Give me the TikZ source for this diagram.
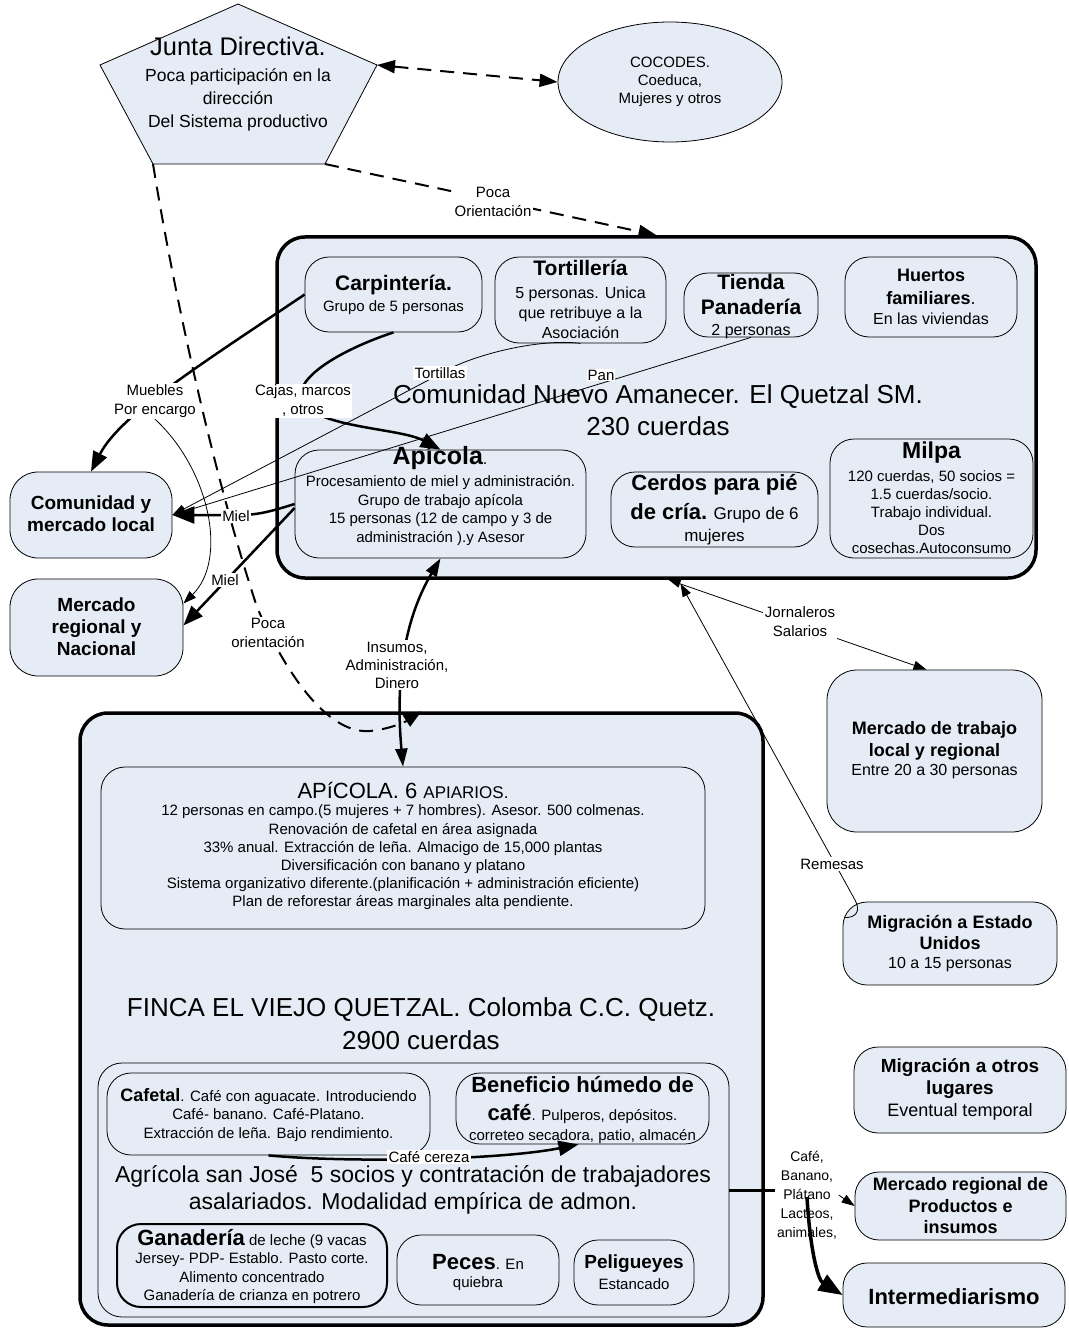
\documentclass[tikz,border=0pt]{standalone}
\usepackage{fontspec}
\setmainfont{Liberation Sans}
\usetikzlibrary{arrows.meta,shapes.geometric,calc}
\definecolor{boxfill}{RGB}{230,236,246}
\newcommand\setfs[2]{\fontsize{#1}{#2}\selectfont}
\pgfdeclarelayer{front}
\pgfdeclarelayer{top}
\pgfsetlayers{main,front,top}

\begin{document}
\begin{tikzpicture}[x=1pt,y=-1pt,
  box/.style={draw, fill=boxfill, line width=0.8pt, rounded corners=24pt, inner sep=0pt},
  bigbox/.style={draw, fill=boxfill, line width=3.5pt, rounded corners=28pt, inner sep=0pt},
  txt/.style={inner sep=0pt, align=center},
  lbl/.style={fill=white, inner sep=1.5pt, align=center, font=\setfs{15}{19}},
  dashln/.style={line width=2pt, dash pattern=on 14pt off 9pt},
  thickarr/.style={line width=2.5pt, -{Triangle[length=20pt,width=15pt]}},
  thinarr/.style={line width=0.8pt, -{Triangle[length=13pt,width=9pt]}},
]
\useasboundingbox (0,0) rectangle (1068,1332);
\fill[white] (0,0) rectangle (1068,1332);

% ---------- board of directors and community councils ----------
\coordinate (jt) at (238,4);
\coordinate (jl) at (100,65);
\coordinate (jr) at (377,65);
\coordinate (jbr) at (325,164);
\coordinate (jbl) at (153,164);
\draw[fill=boxfill, line width=0.8pt] (jt) -- (jr) -- (jbr) -- (jbl) -- (jl) -- cycle;
\node[txt, font=\setfs{25.5}{28}] (jun-t) at (238,46) {Junta Directiva.};
\node[txt, font=\setfs{17.5}{23}] (jun-b) at (238,100) {Poca participación en la\\dirección\\Del Sistema productivo};

\node[ellipse, draw, fill=boxfill, line width=0.8pt, minimum width=224pt, minimum height=120pt,
      align=center, font=\setfs{15}{18}] (coc) at (670,82) {COCODES.\\Coeduca,\\Mujeres y otros};

% ---------- Comunidad Nuevo Amanecer ----------
\node[bigbox, minimum width=759pt, minimum height=341pt] (com) at (656.5,407.5) {};
\node[txt, font=\setfs{26}{32}] (com-t) at (658,410) {Comunidad Nuevo Amanecer. El Quetzal SM.\\230 cuerdas};

\node[box, minimum width=177pt, minimum height=75pt] (carp) at (393.5,294.5) {};
\node[txt, font=\bfseries\setfs{21}{24}] (carp-t) at (393.5,285) {Carpintería.};
\node[txt, font=\setfs{15}{18}] (carp-b) at (393.5,308) {Grupo de 5 personas};

\node[box, minimum width=171pt, minimum height=86pt] (tort) at (580.5,300) {};
\node[txt, font=\bfseries\setfs{21}{24}] (tort-t) at (580.5,268) {Tortillería};
\node[txt, font=\setfs{16}{20}] (tort-b) at (580.5,313) {5 personas. Unica\\que retribuye a la\\Asociación};

\node[box, minimum width=134pt, minimum height=64pt] (tien) at (751,305) {};
\node[txt, font=\bfseries\setfs{21}{25}] (tien-t) at (751,294.5) {Tienda\\Panadería};
\node[txt, font=\setfs{16}{19}] (tien-b) at (751,332) {2 personas};

\node[box, minimum width=172pt, minimum height=80pt] (huer) at (931,297) {};
\node[txt, font=\bfseries\setfs{18}{23}] (huer-t) at (931,286.5) {Huertos\\familiares{\mdseries.}};
\node[txt, font=\setfs{16}{19}] (huer-b) at (931,319) {En las viviendas};

\node[box, minimum width=291pt, minimum height=108pt] (apic) at (440.5,504) {};
\node[txt] (apic-t) at (440,458) {{\bfseries\setfs{25}{28}Apícola}{\setfs{16}{18}.}};
\node[txt, font=\setfs{15}{18.5}] (apic-b) at (440.5,510.5) {Procesamiento de miel y administración.\\Grupo de trabajo apícola\\15 personas (12 de campo y 3 de\\administración ).y Asesor};

\node[box, minimum width=207pt, minimum height=75pt] (cerd) at (714.5,509.5) {};
\node[txt, font=\bfseries\setfs{22}{26}] (cerd-1) at (714.5,485) {Cerdos para pié};
\node[txt] (cerd-2) at (714.5,513) {{\bfseries\setfs{22}{26}de cría.}{\setfs{17}{20} Grupo de 6}};
\node[txt, font=\setfs{17}{20}] (cerd-3) at (714.5,537) {mujeres};

\node[box, minimum width=203pt, minimum height=119pt] (milp) at (931.5,498.5) {};
\node[txt, font=\bfseries\setfs{23}{26}] (milp-t) at (931.5,453) {Milpa};
\node[txt, font=\setfs{15}{18}] (milp-b) at (931.5,512) {120 cuerdas, 50 socios =\\1.5 cuerdas/socio.\\Trabajo individual.\\Dos\\cosechas.Autoconsumo};

% ---------- markets on the left ----------
\node[box, minimum width=162pt, minimum height=86pt, rounded corners=28pt] (cml) at (91,515) {};
\node[txt, font=\bfseries\setfs{19}{22}] (cml-t) at (91,514) {Comunidad y\\mercado local};
\node[box, minimum width=173pt, minimum height=97pt, rounded corners=28pt] (mrn) at (96.5,627.5) {};
\node[txt, font=\bfseries\setfs{19}{22}] (mrn-t) at (96.5,627) {Mercado\\regional y\\Nacional};

% ---------- Finca El Viejo Quetzal ----------
\node[bigbox, minimum width=683pt, minimum height=612pt] (finca) at (421.5,1019) {};
\node[box, minimum width=604pt, minimum height=162pt] (fapi) at (403,848) {};
\node[txt] (fapi-t) at (403,790) {{\setfs{22}{24}APíCOLA. 6 }{\setfs{17}{20}APIARIOS.}};
\node[txt, font=\setfs{15}{18.2}] (fapi-b) at (403,857.5) {12 personas en campo.(5 mujeres + 7 hombres). Asesor. 500 colmenas.\\Renovación de cafetal en área asignada\\33\% anual. Extracción de leña. Almacigo de 15,000 plantas\\Diversificación con banano y platano\\Sistema organizativo diferente.(planificación + administración eficiente)\\Plan de reforestar áreas marginales alta pendiente.};
\node[txt, font=\setfs{26}{33}] (finca-t) at (421,1023.5) {FINCA EL VIEJO QUETZAL. Colomba C.C. Quetz.\\2900 cuerdas};

\node[box, minimum width=631pt, minimum height=254pt] (agr) at (413.5,1190) {};
\node[txt, font=\setfs{23}{27}] (agr-t) at (413,1189.5) {Agrícola san José\ \ 5 socios y contratación de trabajadores\\asalariados. Modalidad empírica de admon.};

\node[box, minimum width=323pt, minimum height=82pt] (cafe) at (268.5,1114) {};
\node[txt] (cafe-1) at (268.5,1097) {{\bfseries\setfs{18}{22}Cafetal}{\setfs{15}{18}. Café con aguacate. Introduciendo}};
\node[txt, font=\setfs{15}{18.5}] (cafe-b) at (268.5,1125) {Café- banano. Café-Platano.\\Extracción de leña. Bajo rendimiento.};

\node[box, minimum width=253pt, minimum height=71pt] (bene) at (582.5,1108.5) {};
\node[txt, font=\bfseries\setfs{22}{26}] (bene-1) at (582.5,1085) {Beneficio húmedo de};
\node[txt] (bene-2) at (582.5,1114) {{\bfseries\setfs{22}{26}café}{\setfs{15}{18}. Pulperos, depósitos.}};
\node[txt, font=\setfs{15}{18}] (bene-3) at (582.5,1137) {correteo secadora, patio, almacén};

\node[box, line width=2pt, minimum width=270pt, minimum height=83pt] (gana) at (252,1265.5) {};
\node[txt] (gana-1) at (252,1239) {{\bfseries\setfs{22}{26}Ganadería}{\setfs{15}{18} de leche (9 vacas}};
\node[txt, font=\setfs{15}{18.5}] (gana-b) at (252,1278.5) {Jersey- PDP- Establo. Pasto corte.\\Alimento concentrado\\Ganadería de crianza en potrero};

\node[box, minimum width=162pt, minimum height=70pt] (pece) at (478,1270) {};
\node[txt] (pece-1) at (478,1262) {{\bfseries\setfs{22}{26}Peces}{\setfs{15}{18}. En}};
\node[txt, font=\setfs{15}{18}] (pece-2) at (478,1284) {quiebra};

\node[box, minimum width=120pt, minimum height=65pt] (peli) at (634,1272.5) {};
\node[txt, font=\bfseries\setfs{19}{22}] (peli-1) at (634,1264) {Peligueyes};
\node[txt, font=\setfs{15}{18}] (peli-2) at (634,1284) {Estancado};

% ---------- destinations on the right ----------
\node[box, minimum width=215pt, minimum height=162pt, rounded corners=30pt] (mtr) at (934.5,751) {};
\node[txt, font=\bfseries\setfs{18}{22}] (mtr-t) at (934.5,741) {Mercado de trabajo\\local y regional};
\node[txt, font=\setfs{16}{19}] (mtr-b) at (934.5,772) {Entre 20 a 30 personas};

\node[box, minimum width=214pt, minimum height=83pt] (meu) at (950,943.5) {};
\node[txt, font=\bfseries\setfs{18}{21}] (meu-t) at (950,932.5) {Migración a Estado\\Unidos};
\node[txt, font=\setfs{16}{19}] (meu-b) at (950,965) {10 a 15 personas};

\node[box, minimum width=212pt, minimum height=86pt] (mol) at (960,1090) {};
\node[txt, font=\bfseries\setfs{19}{22}] (mol-t) at (960,1079) {Migración a otros\\lugares};
\node[txt, font=\setfs{18}{21}] (mol-b) at (960,1112) {Eventual temporal};

\node[box, minimum width=211pt, minimum height=68pt] (mrp) at (960.5,1206) {};
\node[txt, font=\bfseries\setfs{18}{21.5}] (mrp-t) at (960.5,1206) {Mercado regional de\\Productos e\\insumos};

\node[box, minimum width=222pt, minimum height=64pt] (inte) at (954,1295) {};
\node[txt, font=\bfseries\setfs{22}{26}] (inte-t) at (954,1297) {Intermediarismo};

% ---------- connector labels (kept above the lines) ----------
\begin{pgfonlayer}{front}
\node[lbl] (lbl-po) at (493,202) {Poca\\Orientación};
\node[lbl] (lbl-mue) at (155,401) {Muebles\\Por encargo};
\node[lbl] (lbl-caj) at (303,401) {Cajas, marcos\\, otros};
\node[lbl] (lbl-tor) at (440,373) {Tortillas};
\node[lbl, inner sep=1pt] (lbl-pan) at (601,375) {Pan};
\node[lbl] (lbl-miel1) at (236,516) {Miel};
\node[lbl] (lbl-miel2) at (225,580) {Miel};
\node[lbl] (lbl-po2) at (268,633) {Poca\\orientación};
\node[lbl, font=\setfs{15}{18}] (lbl-ins) at (397,665) {Insumos,\\Administración,\\Dinero};
\node[lbl] (lbl-jor) at (800,622) {Jornaleros\\Salarios};
\node[lbl] (lbl-rem) at (832,864) {Remesas};
\node[lbl] (lbl-cc) at (429,1157) {Café cereza};
\node[lbl, font=\setfs{14}{19}] (lbl-prod) at (807,1195) {Café,\\Banano,\\Plátano\\Lacteos,\\animales,};
\end{pgfonlayer}

% ---------- connectors ----------
\draw[dashln, {Triangle[length=18pt,width=13pt]}-{Triangle[length=18pt,width=13pt]}] (jr) -- (coc.west);
\draw[dashln, -{Triangle[length=18pt,width=13pt]}] (jbr) -- (com.north);
\draw[dashln, -{Triangle[length=18pt,width=13pt]}] (jbl) .. controls (175,300) and (215,480) .. (257,607)
   .. controls (275,650) and (320,735) .. (370,731) .. controls (390,729) and (405,722) .. (finca.north);

\draw[thickarr] (carp.west) .. controls (200,365) and (120,415) .. (cml.north);
\draw[thinarr] (lbl-mue.south) .. controls (210,470) and (228,560) .. ($(mrn.east)+(0,-24)$);
\draw[thickarr] (carp.south) .. controls (340,350) and (290,380) .. (303,402)
   .. controls (318,428) and (400,428) .. (apic.north);
\draw[thinarr] (tort.south) .. controls (540,338) and (470,355) .. (440,374) -- (cml.east);
\draw[thinarr] (tien.south) -- (cml.east);
\draw[line width=2.5pt, -{Triangle[length=22pt,width=17pt]}] (apic.west) .. controls (275,510) and (260,515) .. (240,515) -- (cml.east);
\draw[thickarr] ($(apic.west)+(0,4)$) -- ($(mrn.east)+(0,-2)$);
\draw[line width=2.5pt, {Triangle[length=18pt,width=12pt]}-{Triangle[length=18pt,width=12pt]}]
   (fapi.north) .. controls (397,700) and (398,630) .. (apic.south);

\draw[line width=0.8pt, {Triangle[length=12pt,width=8pt]}-{Triangle[length=13pt,width=9pt]}]
   ($(com.south)+(12,0)$) -- ($(mtr.north)+(-8,0)$);
\draw[thinarr] ($(meu.west)+(2,-26)$) .. controls (856,918) and (861,911) .. (855,900) -- ($(com.south)+(24,4)$);

\draw[thickarr] (cafe.south) .. controls (350,1163) and (500,1160) .. ($(bene.south)+(-4,0)$);

\draw[line width=3pt] (agr.east) -- (lbl-prod.west |- agr.east);
\draw[thinarr] (lbl-prod.east) -- (mrp.west);
\begin{pgfonlayer}{top}
\draw[line width=3.5pt, -{Triangle[length=24pt,width=18pt]}] ($(lbl-prod.center)+(0,2)$)
   .. controls (810,1250) and (818,1280) .. (inte.west);
\end{pgfonlayer}
\end{tikzpicture}
\end{document}
